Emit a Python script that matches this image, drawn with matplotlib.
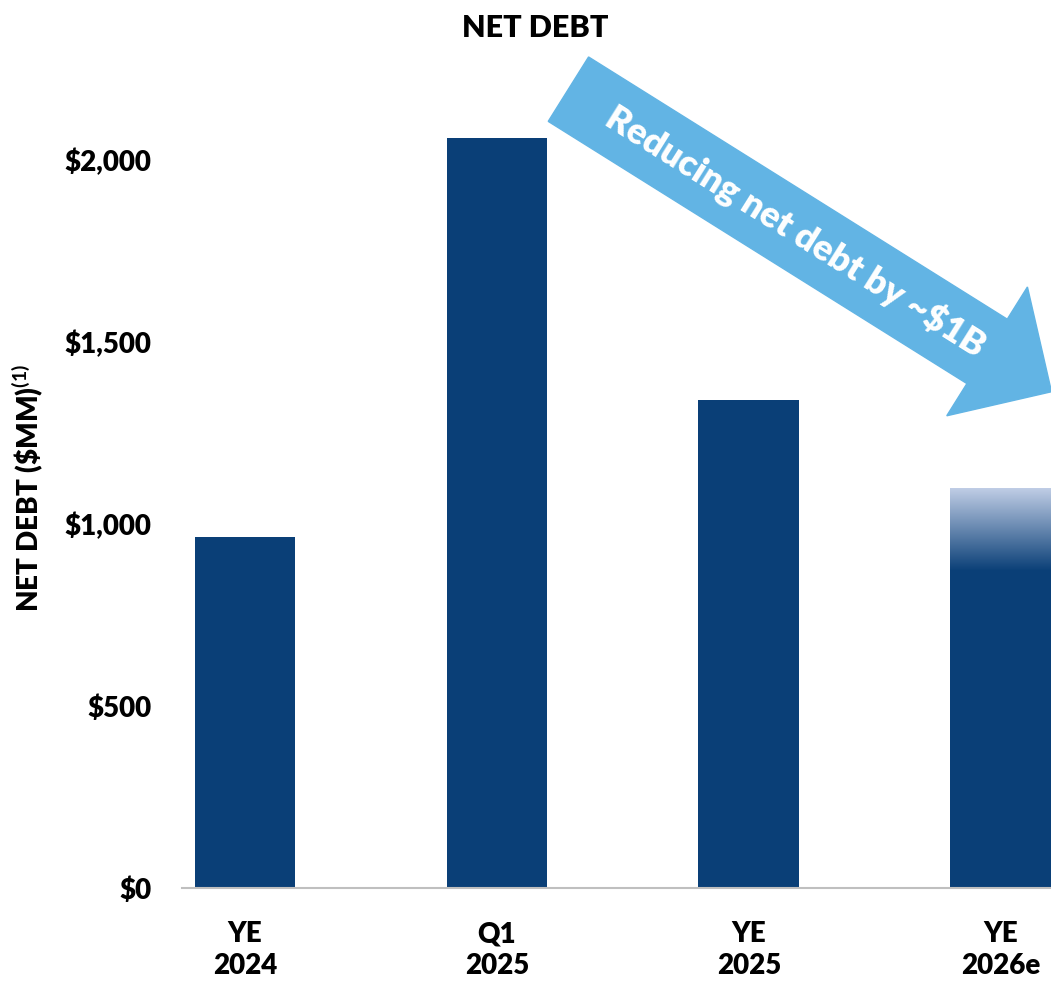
import matplotlib.pyplot as plt
import matplotlib.patches as mpatches
from matplotlib.colors import LinearSegmentedColormap
from matplotlib.transforms import IdentityTransform
import numpy as np

categories = ["YE\n2024", "Q1\n2025", "YE\n2025", "YE\n2026e"]
net_debt = [964, 2060, 1341, 1099]
yticks = [0, 500, 1000, 1500, 2000]
ytick_labels = ["$0", "$500", "$1,000", "$1,500", "$2,000"]

navy = "#0a3f77"
light_blue = "#62b4e4"

plt.rcParams["font.family"] = ["Lato", "DejaVu Sans"]
plt.rcParams["font.weight"] = "bold"
plt.rcParams["mathtext.fontset"] = "custom"
plt.rcParams["mathtext.bf"] = "Lato:bold"
plt.rcParams["mathtext.rm"] = "Lato:bold"

fig = plt.figure(figsize=(10.51, 9.84), dpi=100)
ax = fig.add_axes([0.1732, 0.0976, 0.8268, 0.814])

x = np.arange(len(categories))
bars = ax.bar(x, net_debt, width=0.4, color=navy, zorder=2)

# fade on top of the estimate bar
last = bars[-1]
fade_bottom = 870
cmap = LinearSegmentedColormap.from_list("fade", [navy, "#c2cfe7"])
grad = np.linspace(0, 1, 256).reshape(-1, 1)
im = ax.imshow(grad, cmap=cmap, origin="lower", aspect="auto", zorder=3,
               extent=[x[-1] - 0.2, x[-1] + 0.2, fade_bottom, net_debt[-1]])
im.set_clip_path(last)

ax.set_xlim(-0.25, 3.2)
ax.set_ylim(0, 2200)
ax.set_yticks(yticks)
ax.set_yticklabels(ytick_labels, fontsize=20, fontweight="heavy")
ax.set_xticks(x)
ax.set_xticklabels(categories, fontsize=20, fontweight="heavy", linespacing=1.25)
ax.tick_params(axis="y", length=0, pad=22)
ax.tick_params(axis="x", length=0, pad=24)
for s in ["top", "right", "left"]:
    ax.spines[s].set_visible(False)
ax.spines["bottom"].set_color("#bfbfbf")
ax.spines["bottom"].set_linewidth(1.5)

ax.set_ylabel(r"NET DEBT (\$MM)$^{\mathbf{(1)}}$", fontsize=20, fontweight="heavy", labelpad=14)
fig.text(0.509, 0.972, "NET DEBT", ha="center", va="center", fontsize=22, fontweight="heavy")

# big arrow, laid out in display pixels from data anchor points
fig.canvas.draw()
start = ax.transData.transform((1.284, 2194))
end = ax.transData.transform((3.202, 1363))
d = end - start
arrow = mpatches.FancyArrow(start[0], start[1], d[0], d[1], width=76, head_width=152,
                            head_length=76, length_includes_head=True,
                            color=light_blue, transform=IdentityTransform(),
                            clip_on=False, zorder=4)
fig.patches.append(arrow)
ang = np.degrees(np.arctan2(d[1], d[0]))
mid = start + d * 0.47
fig.text(mid[0] / fig.bbox.width, mid[1] / fig.bbox.height, "Reducing net debt by ~$1B",
         rotation=ang, rotation_mode="anchor", ha="center", va="center",
         color="white", fontsize=26, fontweight="heavy", zorder=5)

fig.savefig("out.png", dpi=100)
